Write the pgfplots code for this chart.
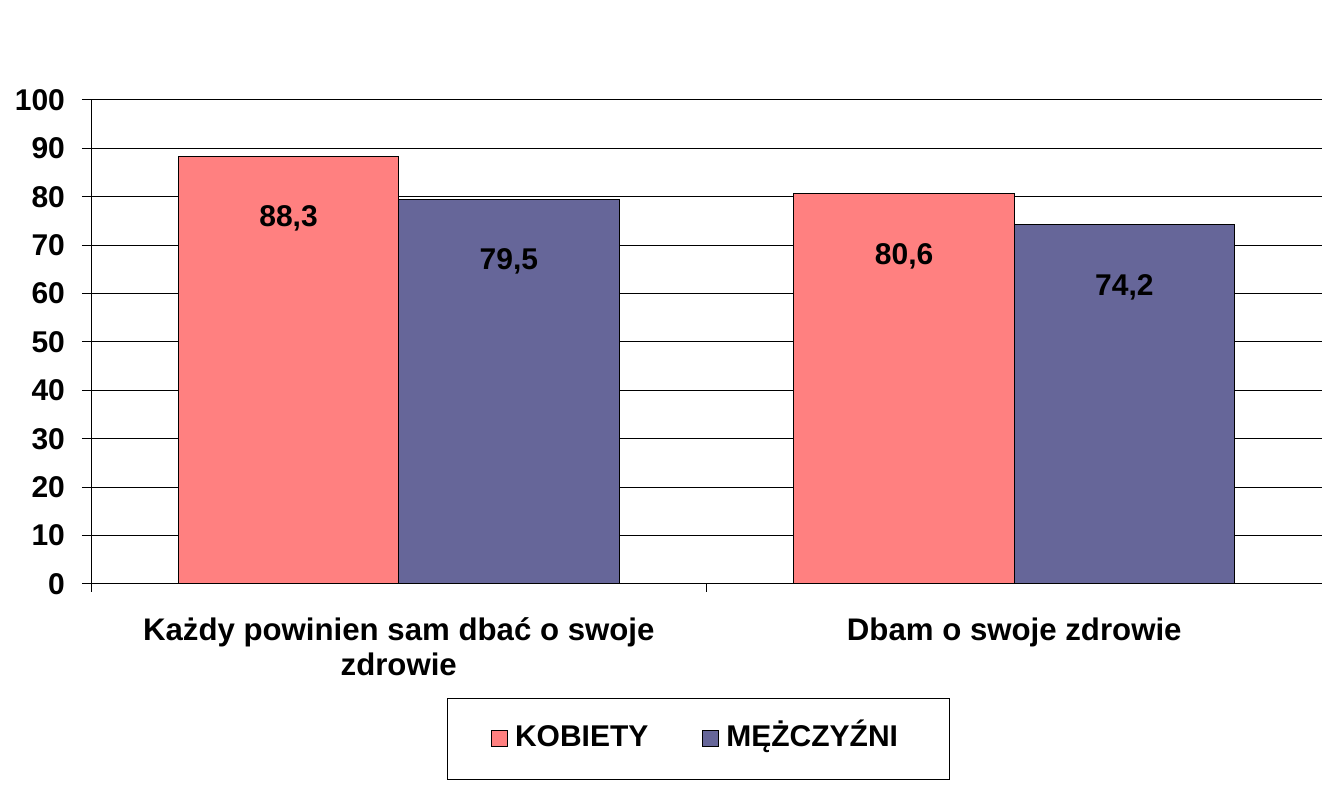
\documentclass[border=0pt]{standalone}
\usepackage{fontspec}
\setmainfont{Liberation Sans}
\usepackage{xcolor}
\usepackage{pgfplots}
\pgfplotsset{compat=1.18}
\definecolor{PINK}{HTML}{FF8080}
\definecolor{NAVY}{HTML}{666699}

\begin{document}
\begin{tikzpicture}
\path[use as bounding box] (-45.5pt,-106pt) rectangle (615.5pt,292pt);
\begin{axis}[
  at={(0,0)}, anchor=south west,
  scale only axis,
  width=615.5pt, height=242pt,
  ybar=0pt,
  bar width=0.358,
  xmin=-0.5, xmax=1.5,
  ymin=0, ymax=100,
  axis x line*=bottom,
  axis y line*=left,
  axis line style={-, line width=0.5pt},
  ytick={0,10,...,100},
  xtick={0,1},
  xticklabels={{Każdy powinien sam dbać o swoje\\zdrowie},{Dbam o swoje zdrowie}},
  major x tick style={draw=none},
  extra x ticks={-0.5,0.5},
  extra x tick labels={},
  extra x tick style={major tick length=4pt, tick align=outside, major x tick style={draw=black, line width=0.5pt}},
  ytick style={draw=black, line width=0.5pt},
  major tick length=4.5pt,
  tick align=outside,
  ymajorgrids,
  grid style={draw=black, line width=0.5pt},
  /pgf/number format/assume math mode=true,
  tick label style={font=\fontsize{15}{17}\selectfont\bfseries},
  yticklabel style={xshift=-5pt},
  x tick label style={font=\fontsize{15.6}{17.5}\selectfont\bfseries, align=center, yshift=-9pt},
  nodes near coords,
  nodes near coords style={font=\fontsize{15}{17}\selectfont\bfseries, anchor=center, yshift=-31pt,
    /pgf/number format/.cd, use comma, fixed, fixed zerofill, precision=1, assume math mode=true},
  legend columns=2,
  legend style={at={(303.5pt,-77.5pt)}, anchor=center, draw=black, line width=0.5pt,
    font=\fontsize{15}{17}\selectfont\bfseries, inner xsep=22pt, inner ysep=11pt,
    nodes={text height=11pt, text depth=3.5pt, inner xsep=3.5pt},
    /tikz/every even column/.append style={column sep=23.5pt}},
  legend image code/.code={\draw[#1, line width=0.5pt] (0pt,-4pt) rectangle (8pt,4pt);},
]
\addplot[fill=PINK, draw=black, line width=0.5pt] coordinates {(0,88.3) (1,80.6)};
\addplot[fill=NAVY, draw=black, line width=0.5pt] coordinates {(0,79.5) (1,74.2)};
\legend{KOBIETY, MĘŻCZYŹNI}
\end{axis}
\end{tikzpicture}
\end{document}
